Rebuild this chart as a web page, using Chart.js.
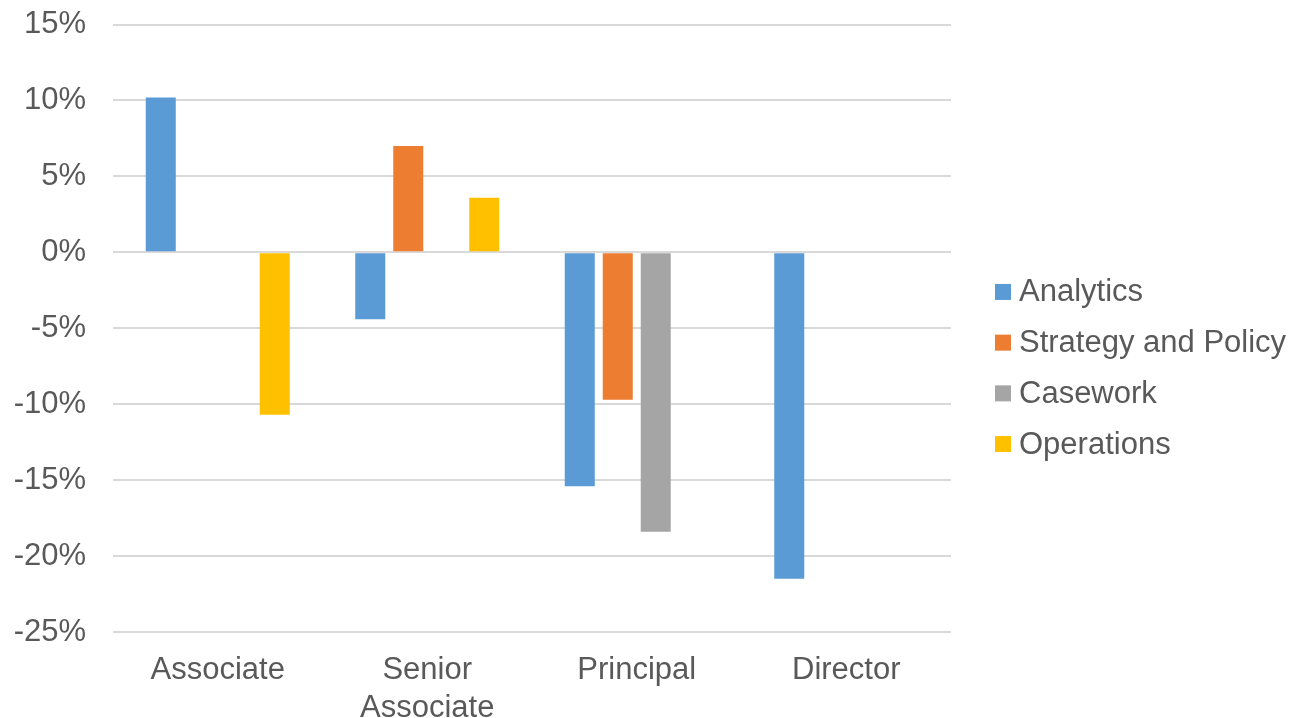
<!DOCTYPE html>
<html>
<head>
<meta charset="utf-8">
<script src="https://cdn.jsdelivr.net/npm/chart.js@4/dist/chart.umd.min.js"></script>
<style>
html,body{margin:0;padding:0;background:#fff;}
#wrap{width:1296px;height:718px;}
</style>
</head>
<body>
<div id="wrap"><canvas id="c" width="1296" height="718"></canvas></div>
<script>
const categories = ["Associate", ["Senior", "Associate"], "Principal", "Director"];
const seriesNames = ["Analytics", "Strategy and Policy", "Casework", "Operations"];
const analytics = [10.2, -4.4, -15.4, -21.5];
const strategyPolicy = [null, 7.0, -9.7, null];
const casework = [null, null, -18.4, null];
const operations = [-10.7, 3.6, null, null];
const yTicks = [15, 10, 5, 0, -5, -10, -15, -20, -25];
const colors = ["#5B9BD5", "#ED7D31", "#A5A5A5", "#FFC000"];

const FONT = '"Liberation Sans", Arial, sans-serif';
const TEXT = '#595959';

const legendPlugin = {
  id: 'customLegend',
  afterDraw(chart) {
    const ctx = chart.ctx;
    const ds = chart.data.datasets;
    const x0 = chart.chartArea.right + 44;
    const step = 50.7;
    const midY = chart.height / 2 + 9;
    const startY = midY - step * (ds.length - 1) / 2;
    ctx.save();
    ctx.font = '31px ' + FONT;
    ctx.textBaseline = 'middle';
    ctx.textAlign = 'left';
    ds.forEach((d, i) => {
      const y = startY + i * step;
      ctx.fillStyle = d.backgroundColor;
      ctx.fillRect(x0, y - 8, 16, 16);
      ctx.fillStyle = TEXT;
      ctx.fillText(d.label, x0 + 24, y + 1);
    });
    ctx.restore();
  }
};

const datasets = [analytics, strategyPolicy, casework, operations].map((vals, i) => ({
  label: seriesNames[i],
  data: vals,
  backgroundColor: colors[i],
  borderWidth: 0,
  barPercentage: 0.79,
  categoryPercentage: 0.7255
}));

new Chart(document.getElementById('c'), {
  type: 'bar',
  data: { labels: categories, datasets },
  options: {
    responsive: false,
    animation: false,
    layout: { padding: { left: 12, right: 345, top: 24.5, bottom: 0 } },
    plugins: { legend: { display: false }, tooltip: { enabled: false } },
    scales: {
      x: {
        grid: { display: false },
        border: { display: false },
        ticks: {
          color: TEXT,
          font: { family: FONT, size: 31, lineHeight: 1.22 },
          padding: 12,
          maxRotation: 0,
          autoSkip: false
        },
        afterFit(scale) { scale.height = 86; }
      },
      y: {
        min: -25, max: 15,
        afterBuildTicks(scale) { scale.ticks = yTicks.map(v => ({ value: v })); },
        grid: { color: '#D9D9D9', lineWidth: 2, drawTicks: false },
        border: { display: false },
        ticks: {
          color: TEXT,
          font: { family: FONT, size: 31 },
          padding: 27,
          callback: v => v + '%'
        },
        afterFit(scale) {
          scale.width = 101;
          scale.paddingTop = 0;
          scale.paddingBottom = 0;
        }
      }
    }
  },
  plugins: [legendPlugin]
});
</script>
</body>
</html>
